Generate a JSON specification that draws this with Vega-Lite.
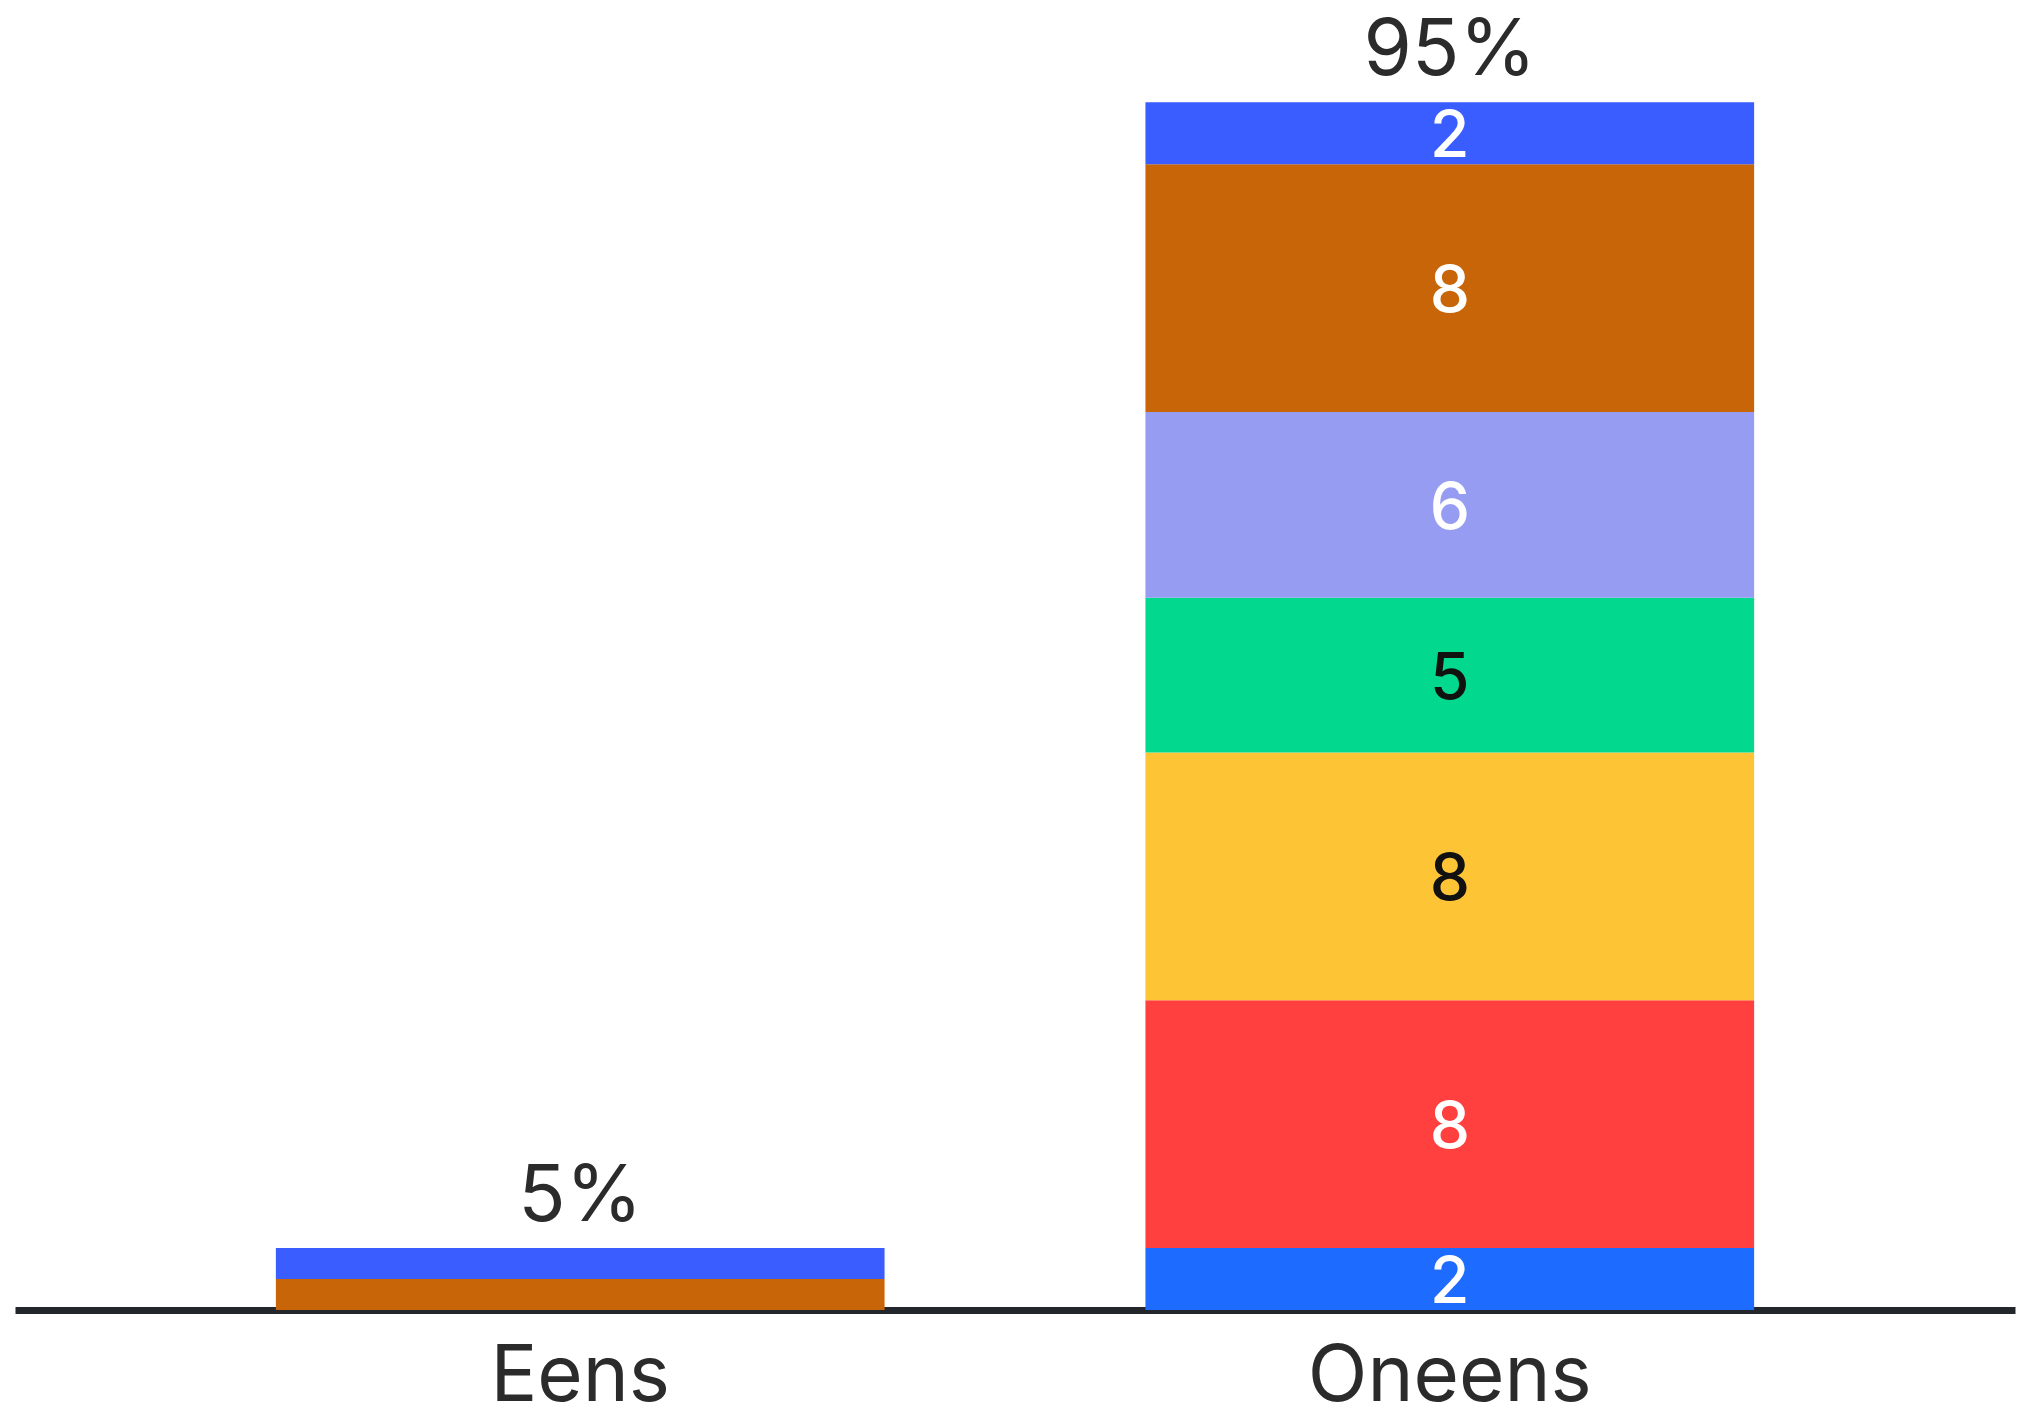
{
  "$schema": "https://vega.github.io/schema/vega-lite/v6.json",
  "autosize": "none",
  "width": 2000,
  "height": 1310,
  "padding": {"left": 15, "top": 0, "right": 8, "bottom": 115},
  "background": "#ffffff",
  "data": {
    "values": [
      {"group": "Eens", "series": "s6", "order": 6, "value": 1},
      {"group": "Eens", "series": "s7", "order": 7, "value": 1},
      {"group": "Oneens", "series": "s1", "order": 1, "value": 2},
      {"group": "Oneens", "series": "s2", "order": 2, "value": 8},
      {"group": "Oneens", "series": "s3", "order": 3, "value": 8},
      {"group": "Oneens", "series": "s4", "order": 4, "value": 5},
      {"group": "Oneens", "series": "s5", "order": 5, "value": 6},
      {"group": "Oneens", "series": "s6", "order": 6, "value": 8},
      {"group": "Oneens", "series": "s7", "order": 7, "value": 2}
    ]
  },
  "encoding": {
    "x": {
      "field": "group",
      "type": "nominal",
      "sort": ["Eens", "Oneens"],
      "scale": {"paddingInner": 0.3, "paddingOuter": 0.3},
      "axis": {
        "title": null,
        "labelAngle": 0,
        "labelFont": "Inter",
        "labelFontSize": 78,
        "labelColor": "#2b2b2b",
        "labelPadding": 28,
        "labelLimit": 0,
        "ticks": false,
        "tickSize": 0,
        "domainColor": "#23272b",
        "domainWidth": 7,
        "grid": false
      }
    }
  },
  "layer": [
    {
      "mark": {"type": "bar", "stroke": null},
      "encoding": {
        "y": {
          "field": "value",
          "type": "quantitative",
          "stack": "zero",
          "scale": {"domain": [0, 42.3], "nice": false},
          "axis": null
        },
        "order": {"field": "order", "type": "quantitative"},
        "color": {
          "field": "series",
          "type": "nominal",
          "legend": null,
          "scale": {
            "domain": ["s1", "s2", "s3", "s4", "s5", "s6", "s7"],
            "range": ["#1D6BFF", "#FF403F", "#FDC536", "#02D98F", "#979CF3", "#C96509", "#3A5DFF"]
          }
        }
      }
    },
    {
      "transform": [
        {"stack": "value", "groupby": ["group"], "sort": [{"field": "order"}], "as": ["v0", "v1"]},
        {"filter": "datum.group === 'Oneens'"},
        {"calculate": "(datum.v0 + datum.v1) / 2", "as": "mid"}
      ],
      "mark": {"type": "text", "font": "Inter", "fontSize": 64, "fontWeight": 500, "baseline": "middle", "align": "center", "dy": 5},
      "encoding": {
        "y": {"field": "mid", "type": "quantitative", "scale": {"domain": [0, 42.3], "nice": false}, "axis": null},
        "text": {"field": "value", "type": "quantitative"},
        "color": {
          "condition": {"test": "datum.series === 's3' || datum.series === 's4'", "value": "#111111"},
          "value": "#ffffff"
        }
      }
    },
    {
      "transform": [
        {"aggregate": [{"op": "sum", "field": "value", "as": "total"}], "groupby": ["group"]},
        {"joinaggregate": [{"op": "sum", "field": "total", "as": "grand"}]},
        {"calculate": "round(100 * datum.total / datum.grand) + '%'", "as": "pct"}
      ],
      "mark": {"type": "text", "font": "Inter", "fontSize": 78, "baseline": "alphabetic", "align": "center", "dy": -27, "color": "#2b2b2b"},
      "encoding": {
        "y": {"field": "total", "type": "quantitative", "scale": {"domain": [0, 42.3], "nice": false}, "axis": null},
        "text": {"field": "pct", "type": "nominal"}
      }
    }
  ],
  "config": {
    "view": {"stroke": null}
  }
}
